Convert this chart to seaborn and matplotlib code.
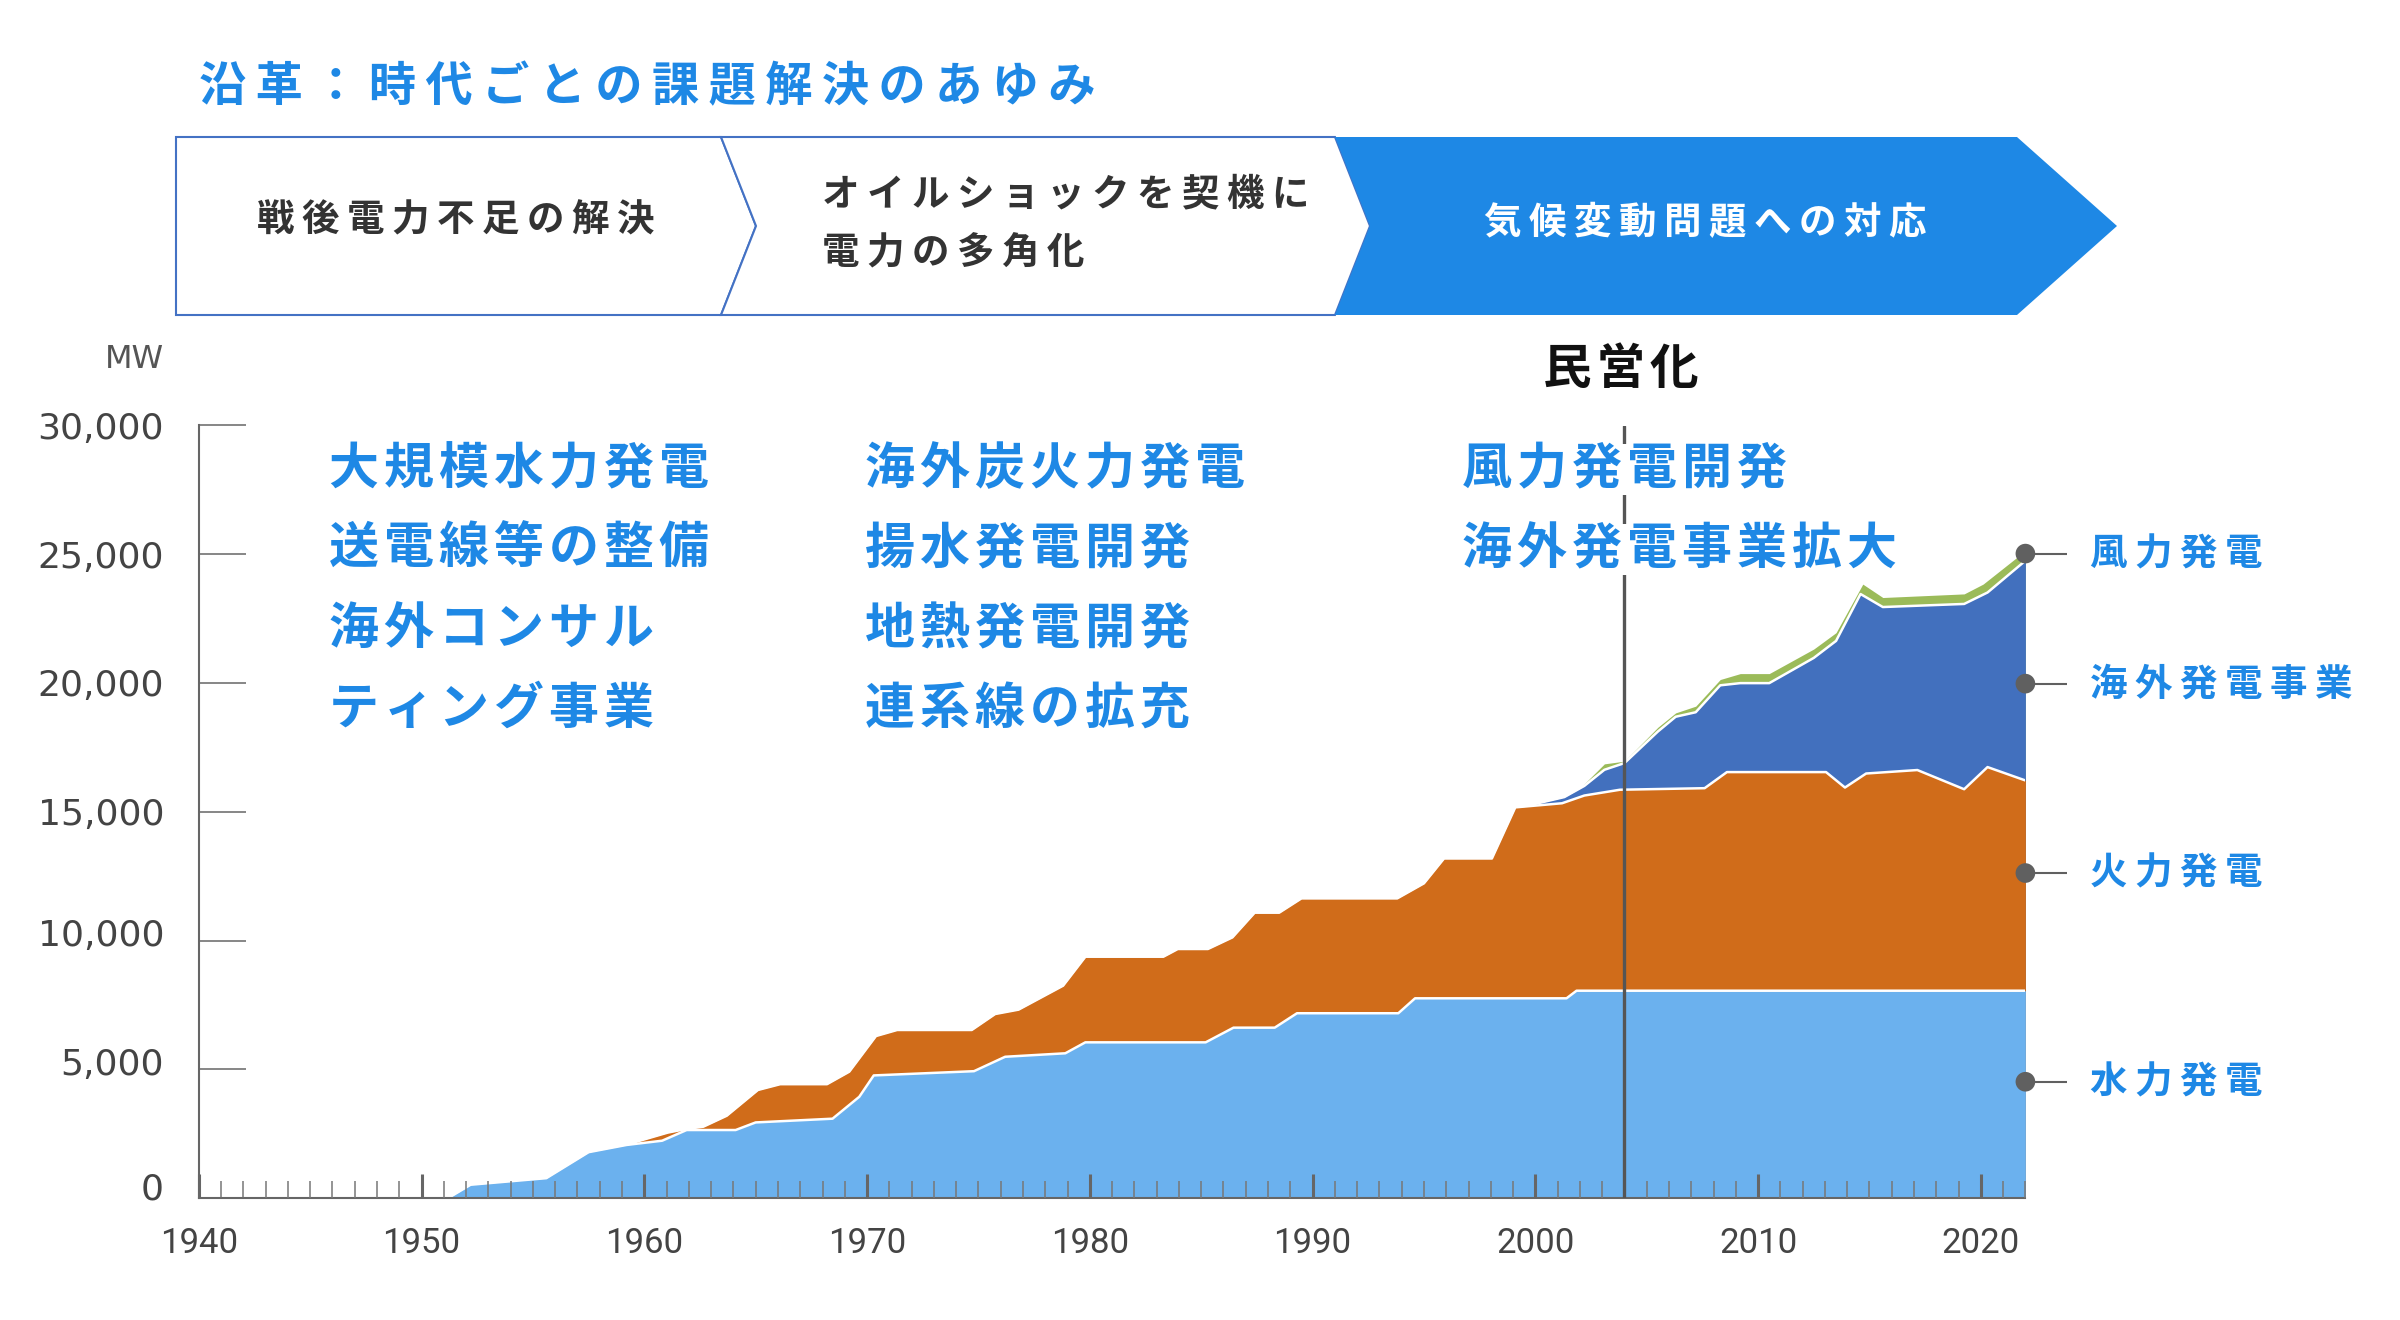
import matplotlib

matplotlib.use("Agg")

import matplotlib.pyplot as plt
import matplotlib.transforms as mtransforms
from matplotlib.patches import Polygon
import seaborn as sns

# cumulative capacity (MW), one boundary per layer
hydro_years = [1951.2, 1952.2, 1955.6, 1957.5, 1959.2, 1960.8, 1961.9, 1964.1, 1965.0,
               1968.45, 1969.65, 1970.3, 1974.8, 1976.2, 1978.9, 1979.8, 1985.2, 1986.45,
               1988.3, 1989.3, 1993.85, 1994.6, 2001.4, 2001.85, 2022.0]
hydro_mw = [0, 515, 770, 1780, 2060, 2225, 2640, 2640, 2935,
            3080, 3930, 4760, 4925, 5485, 5620, 6045, 6045, 6615,
            6615, 7175, 7175, 7755, 7755, 8050, 8050]

thermal_years = [1959.5, 1961.05, 1961.85, 1962.65, 1963.7, 1965.1, 1966.1, 1968.2, 1969.2,
                 1970.4, 1971.35, 1974.7, 1975.75, 1976.8, 1978.8, 1979.8, 1983.3, 1983.95,
                 1985.3, 1986.4, 1987.4, 1988.5, 1989.5, 1993.8, 1995.0, 1995.9, 1998.05,
                 1999.1, 2001.2, 2002.2, 2003.8, 2007.6, 2008.6, 2013.05, 2013.9, 2014.85,
                 2017.15, 2019.25, 2020.3, 2022.0]
hydro_thermal_mw = [2150, 2540, 2675, 2770, 3195, 4195, 4420, 4420, 4905,
                    6290, 6525, 6525, 7145, 7315, 8245, 9370, 9370, 9670,
                    9670, 10120, 11080, 11080, 11635, 11635, 12220, 13185, 13185,
                    15170, 15330, 15630, 15855, 15915, 16540, 16540, 15940, 16485,
                    16620, 15875, 16735, 16215]

overseas_years = [1999.7, 2001.3, 2002.2, 2003.1, 2004.0, 2005.5, 2006.3, 2007.2, 2008.3,
                  2009.2, 2010.5, 2012.5, 2013.5, 2014.6, 2015.6, 2019.25, 2020.3, 2022.0]
hydro_thermal_overseas_mw = [15245, 15570, 16005, 16630, 16890, 18115, 18690, 18865, 19910,
                             19995, 19995, 20975, 21635, 23455, 22950, 23070, 23515, 24750]

wind_years = [2002.0, 2003.1, 2004.0, 2005.5, 2006.3, 2007.2, 2008.3, 2009.2, 2010.5,
              2012.5, 2013.5, 2014.7, 2015.6, 2019.25, 2020.1, 2022.0]
total_mw = [15915, 16860, 16965, 18280, 18840, 19100, 20135, 20365, 20365,
            21320, 21955, 23840, 23320, 23460, 23840, 25140]

series_names = ["水力発電", "火力発電", "海外発電事業", "風力発電"]
series_label_mw = [4515, 12620, 19975, 25025]

x_ticks = [1940, 1950, 1960, 1970, 1980, 1990, 2000, 2010, 2020]
y_ticks = [0, 5000, 10000, 15000, 20000, 25000, 30000]
y_tick_labels = ["0", "5,000", "10,000", "15,000", "20,000", "25,000", "30,000"]

title = "沿革：時代ごとの課題解決のあゆみ"
era_labels = ["戦後電力不足の解決", "オイルショックを契機に", "電力の多角化", "気候変動問題への対応"]
topics_1 = ["大規模水力発電", "送電線等の整備", "海外コンサル", "ティング事業"]
topics_2 = ["海外炭火力発電", "揚水発電開発", "地熱発電開発", "連系線の拡充"]
topics_3 = ["風力発電開発", "海外発電事業拡大"]
privatization_year = 2004

BLUE = "#1E88E5"
HYDRO = "#6BB1EE"
THERMAL = "#D06C1A"
OVERSEAS = "#4270BE"
WIND = "#9BBB59"
GRAY = "#666666"
THIN = "\u2009"
HAIR = "\u200a"


def spaced(s, sep=THIN):
    return sep.join(s)


sns.set_theme(style="white")
plt.rcParams["font.family"] = ["Noto Sans CJK JP", "DejaVu Sans"]

W, H = 2400, 1320
x0, x1 = 198.8, 2025.4
y0, y1 = 1198.0, 425.5

fig = plt.figure(figsize=(W / 100, H / 100), dpi=100)
ax = fig.add_axes([x0 / W, 1 - y0 / H, (x1 - x0) / W, (y0 - y1) / H])
ax.set_xlim(1940, 2022)
ax.set_ylim(0, 30000)

# painter's order: largest cumulative first
layers = [
    (wind_years, total_mw, WIND),
    (overseas_years, hydro_thermal_overseas_mw, OVERSEAS),
    (thermal_years, hydro_thermal_mw, THERMAL),
    (hydro_years, hydro_mw, HYDRO),
]
for yrs, vals, col in layers:
    ax.fill_between(yrs, 0, vals, color=col, linewidth=0, zorder=1)

for yrs, vals in [(overseas_years, hydro_thermal_overseas_mw),
                  (thermal_years, hydro_thermal_mw),
                  (hydro_years, hydro_mw)]:
    sns.lineplot(x=yrs, y=vals, color="white", linewidth=1.8, estimator=None,
                 sort=False, ax=ax, zorder=2)

ax.axvline(privatization_year, color="#555555", linewidth=2.4, zorder=3)

ax.set_axisbelow(False)
ax.set_xticks(x_ticks)
ax.set_xticks([y for y in range(1941, 2023) if y % 10], minor=True)
ax.set_yticks(y_ticks, y_tick_labels)
ax.tick_params(axis="x", which="major", bottom=True, direction="in", length=17, width=2.2,
               color=GRAY, pad=21, labelsize=25, labelcolor="#444444")
ax.tick_params(axis="x", which="minor", bottom=True, direction="in", length=12, width=1.1,
               color="#777777")
ax.tick_params(axis="y", left=True, direction="in", length=34, width=1.1, color=GRAY, pad=25,
               labelsize=26, labelcolor="#444444")
for lbl in ax.get_xticklabels():
    lbl.set_fontfamily("Roboto")
for lbl in ax.get_yticklabels():
    lbl.set_fontfamily("DejaVu Sans")

# the lower y labels sit slightly above their ticks in the original
y_label_lift_px = [12, 8, 8, 0, 0, 0, 0]
for lbl, lift in zip(ax.get_yticklabels(), y_label_lift_px):
    shift = mtransforms.ScaledTranslation(0, lift / 100, fig.dpi_scale_trans)
    lbl.set_transform(lbl.get_transform() + shift)

sns.despine(ax=ax)
for side in ["left", "bottom"]:
    ax.spines[side].set_color(GRAY)
    ax.spines[side].set_linewidth(1.5)
ax.set_xlabel("")
ax.set_ylabel("")

# end-of-series markers and labels
sns.scatterplot(x=[2022] * len(series_label_mw), y=series_label_mw, color="#606060",
                s=200, edgecolor="none", ax=ax, zorder=6, clip_on=False)
ax.hlines(series_label_mw, 2022, 2023.85, color="#606060", linewidth=1.5,
          clip_on=False, zorder=5)
for name, val in zip(series_names, series_label_mw):
    ax.text(2024.9, val, spaced(name), ha="left", va="center", fontsize=27,
            fontweight="bold", color=BLUE, clip_on=False)

# overlay in pixel units for the header, banner and notes
ov = fig.add_axes([0, 0, 1, 1], zorder=5)
ov.set_xlim(0, W)
ov.set_ylim(H, 0)
ov.axis("off")

ov.text(199, 87, spaced(title), ha="left", va="center", fontsize=34,
        fontweight="bold", color=BLUE)

top, mid, bot = 137, 226, 315
ov.add_patch(Polygon([(176, top), (721, top), (756, mid), (721, bot), (176, bot)],
                     closed=True, facecolor="white", edgecolor="#4472C4", linewidth=1.5))
ov.add_patch(Polygon([(721, top), (1335, top), (1370, mid), (1335, bot), (721, bot), (756, mid)],
                     closed=True, facecolor="white", edgecolor="#4472C4", linewidth=1.5))
ov.add_patch(Polygon([(1335, top), (2017, top), (2117, mid), (2017, bot), (1335, bot), (1370, mid)],
                     closed=True, facecolor=BLUE, edgecolor="none"))

ov.text(456, 220, spaced(era_labels[0]), ha="center", va="center", fontsize=27,
        fontweight="bold", color="#333333")
ov.text(822, 194, spaced(era_labels[1]), ha="left", va="center", fontsize=27,
        fontweight="bold", color="#333333")
ov.text(822, 253, spaced(era_labels[2]), ha="left", va="center", fontsize=27,
        fontweight="bold", color="#333333")
ov.text(1705, 223, spaced(era_labels[3]), ha="center", va="center", fontsize=27,
        fontweight="bold", color="white")

ov.text(134, 360, "MW", ha="center", va="center", fontsize=23, color="#555555",
        family="DejaVu Sans")
ov.text(1621, 370, spaced("民営化", HAIR), ha="center", va="center", fontsize=35,
        fontweight="bold", color="#111111")

rows = [469.5, 549.5, 629.5, 709.5]
for x_left, items in [(329, topics_1), (865, topics_2), (1462, topics_3)]:
    for y, s in zip(rows, items):
        ov.text(x_left, y, spaced(s, HAIR), ha="left", va="center", fontsize=36,
                fontweight="bold", color=BLUE,
                bbox=dict(facecolor="white", edgecolor="none", pad=0))

fig.savefig("out.png", dpi=100)
plt.close(fig)
